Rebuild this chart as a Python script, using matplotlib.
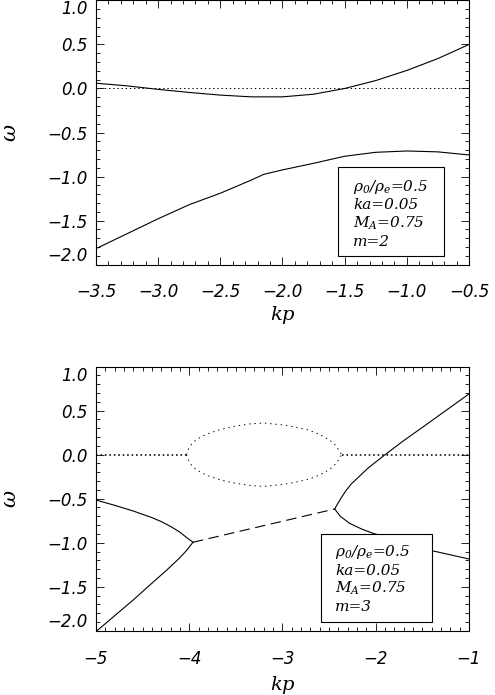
import numpy as np
import matplotlib
matplotlib.use("Agg")
import matplotlib.pyplot as plt
from matplotlib.patches import Rectangle

plt.rcParams["mathtext.fontset"] = "dejavuserif"
plt.rcParams["lines.scale_dashes"] = False
plt.rcParams["font.family"] = "DejaVu Sans"
plt.rcParams["font.style"] = "italic"

# ---------------------------------------------------------------------------
# data
# ---------------------------------------------------------------------------

# m = 2 panel
x2_up = [-3.5, -3.25, -3.0, -2.75, -2.5, -2.25, -2.0, -1.75, -1.5, -1.25, -1.0, -0.75, -0.5]
w2_up = [0.06, 0.03, -0.01, -0.045, -0.075, -0.095, -0.095, -0.065, 0.0, 0.09, 0.205, 0.34, 0.5]

x2_lo = [-3.5, -3.25, -3.0, -2.75, -2.5, -2.25, -2.15, -2.0, -1.75, -1.5, -1.25, -1.0, -0.75, -0.5]
w2_lo = [-1.82, -1.65, -1.48, -1.32, -1.19, -1.04, -0.975, -0.925, -0.85, -0.77, -0.725, -0.71, -0.72, -0.755]

# m = 3 panel
x3_a = [-5.0, -4.8, -4.6, -4.4, -4.3, -4.2, -4.1, -4.03, -3.96]
w3_a = [-0.515, -0.575, -0.64, -0.715, -0.76, -0.815, -0.88, -0.94, -0.995]

x3_b = [-5.0, -4.8, -4.6, -4.4, -4.24, -4.1, -4.03, -3.96]
w3_b = [-2.01, -1.83, -1.65, -1.46, -1.31, -1.17, -1.09, -0.995]

x3_dash = [-3.96, -2.44]
w3_dash = [-0.995, -0.617]

x3_c = [-2.44, -2.41, -2.37, -2.32, -2.26, -2.18, -2.08, -1.9, -1.7, -1.5, -1.25, -1.0]
w3_c = [-0.617, -0.56, -0.49, -0.41, -0.33, -0.25, -0.15, 0.0, 0.16, 0.31, 0.5, 0.69]

x3_d = [-2.44, -2.38, -2.28, -2.15, -2.03, -1.8, -1.4, -1.0]
w3_d = [-0.617, -0.7, -0.78, -0.845, -0.893, -0.96, -1.09, -1.185]

x3_loop = [-4.03, -4.01, -3.975, -3.92, -3.81, -3.67, -3.53, -3.35, -3.2, -2.99,
           -2.85, -2.72, -2.6, -2.526, -2.46, -2.42, -2.39, -2.365]
w3_loop_up = [0.0, 0.06, 0.12, 0.175, 0.235, 0.285, 0.32, 0.35, 0.36, 0.338,
              0.31, 0.28, 0.23, 0.186, 0.14, 0.09, 0.045, 0.0]
w3_loop_lo = [0.0, -0.06, -0.12, -0.175, -0.235, -0.285, -0.32, -0.35, -0.36, -0.338,
              -0.31, -0.28, -0.23, -0.186, -0.14, -0.09, -0.045, 0.0]

x3_zero_l = [-5.0, -4.03]
x3_zero_r = [-2.365, -1.0]

params_m2 = [r"$\rho_{0}/\rho_{e}$=0.5", "ka=0.05", r"$M_{A}$=0.75", "m=2"]
params_m3 = [r"$\rho_{0}/\rho_{e}$=0.5", "ka=0.05", r"$M_{A}$=0.75", "m=3"]

# ---------------------------------------------------------------------------

LW = 0.8


def style_axes(ax, xlim, xmajor, ylim=(-2.0, 1.0), xpad=14):
    ax.set_xlim(*xlim)
    ax.set_ylim(*ylim)
    ax.set_xticks(np.arange(xlim[0], xlim[1] + 1e-9, xmajor))
    ax.set_xticks(np.arange(xlim[0], xlim[1] + 1e-9, 0.1), minor=True)
    ax.set_yticks(np.arange(-2.0, 1.0 + 1e-9, 0.5))
    ax.set_yticks(np.arange(-2.0, 1.0 + 1e-9, 0.1), minor=True)
    ax.tick_params(which="both", direction="in", top=True, right=True, width=0.6,
                   labelsize=12)
    ax.tick_params(which="major", length=6)
    ax.tick_params(which="minor", length=3)
    ax.tick_params(axis="y", pad=6)
    ax.tick_params(axis="x", pad=xpad)
    for s in ax.spines.values():
        s.set_linewidth(0.8)
    ylabs = ax.get_yticklabels()
    ylabs[-1].set_verticalalignment("top")
    ylabs[0].set_verticalalignment("bottom")
    ax.set_ylabel(r"$\omega$", fontsize=15, rotation=90)
    ax.yaxis.set_label_coords(-0.205, 0.5)


def param_box(ax, lines, x0, x1, y0, y1, tx, ty):
    ax.add_patch(Rectangle((x0, y0), x1 - x0, y1 - y0, transform=ax.transAxes,
                           facecolor="white", edgecolor="black", lw=0.8, zorder=5))
    for t, y in zip(lines, ty):
        ax.text(tx, y, t, transform=ax.transAxes, ha="left", va="center",
                family="DejaVu Serif", style="italic", fontsize=11, zorder=6)


fig = plt.figure(figsize=(4.95, 6.95), dpi=100)
ax1 = fig.add_axes([0.1939, 0.6194, 0.7535, 0.3799])
ax2 = fig.add_axes([0.1939, 0.0925, 0.7535, 0.3799])

# --- top panel, m = 2
ax1.plot([-3.5, -0.5], [0, 0], color="k", lw=0.7, dashes=(1.0, 2.0))
ax1.plot(x2_up, w2_up, color="k", lw=LW)
ax1.plot(x2_lo, w2_lo, color="k", lw=LW)
style_axes(ax1, (-3.5, -0.5), 0.5, xpad=13)
ax1.set_xlabel(r"$kp$", fontsize=14)
ax1.xaxis.label.set_verticalalignment("center")
ax1.xaxis.set_label_coords(0.5, -0.19)
param_box(ax1, params_m2, 0.649, 0.933, 0.032, 0.369, 0.689,
          [0.2936, 0.2254, 0.157, 0.0852])

# --- bottom panel, m = 3
ax2.plot(x3_zero_l, [0, 0], color="k", lw=1.1, dashes=(1.2, 2.0))
ax2.plot(x3_zero_r, [0, 0], color="k", lw=1.1, dashes=(1.2, 2.0))
ax2.plot(x3_loop, w3_loop_up, color="k", lw=0.7, dashes=(1.0, 2.8))
ax2.plot(x3_loop, w3_loop_lo, color="k", lw=0.7, dashes=(1.0, 2.8))
ax2.plot(x3_a, w3_a, color="k", lw=LW)
ax2.plot(x3_b, w3_b, color="k", lw=LW)
ax2.plot(x3_dash, w3_dash, color="k", lw=LW, dashes=(7.5, 4.0))
ax2.plot(x3_c, w3_c, color="k", lw=LW)
ax2.plot(x3_d, w3_d, color="k", lw=LW)
style_axes(ax2, (-5, -1), 1, xpad=14)
ax2.set_xlabel(r"$kp$", fontsize=14)
ax2.xaxis.label.set_verticalalignment("center")
ax2.xaxis.set_label_coords(0.5, -0.205)
param_box(ax2, params_m3, 0.6024, 0.9008, 0.033, 0.366, 0.641,
          [0.298, 0.226, 0.1617, 0.0898])

fig.savefig("out.png", dpi=100)
